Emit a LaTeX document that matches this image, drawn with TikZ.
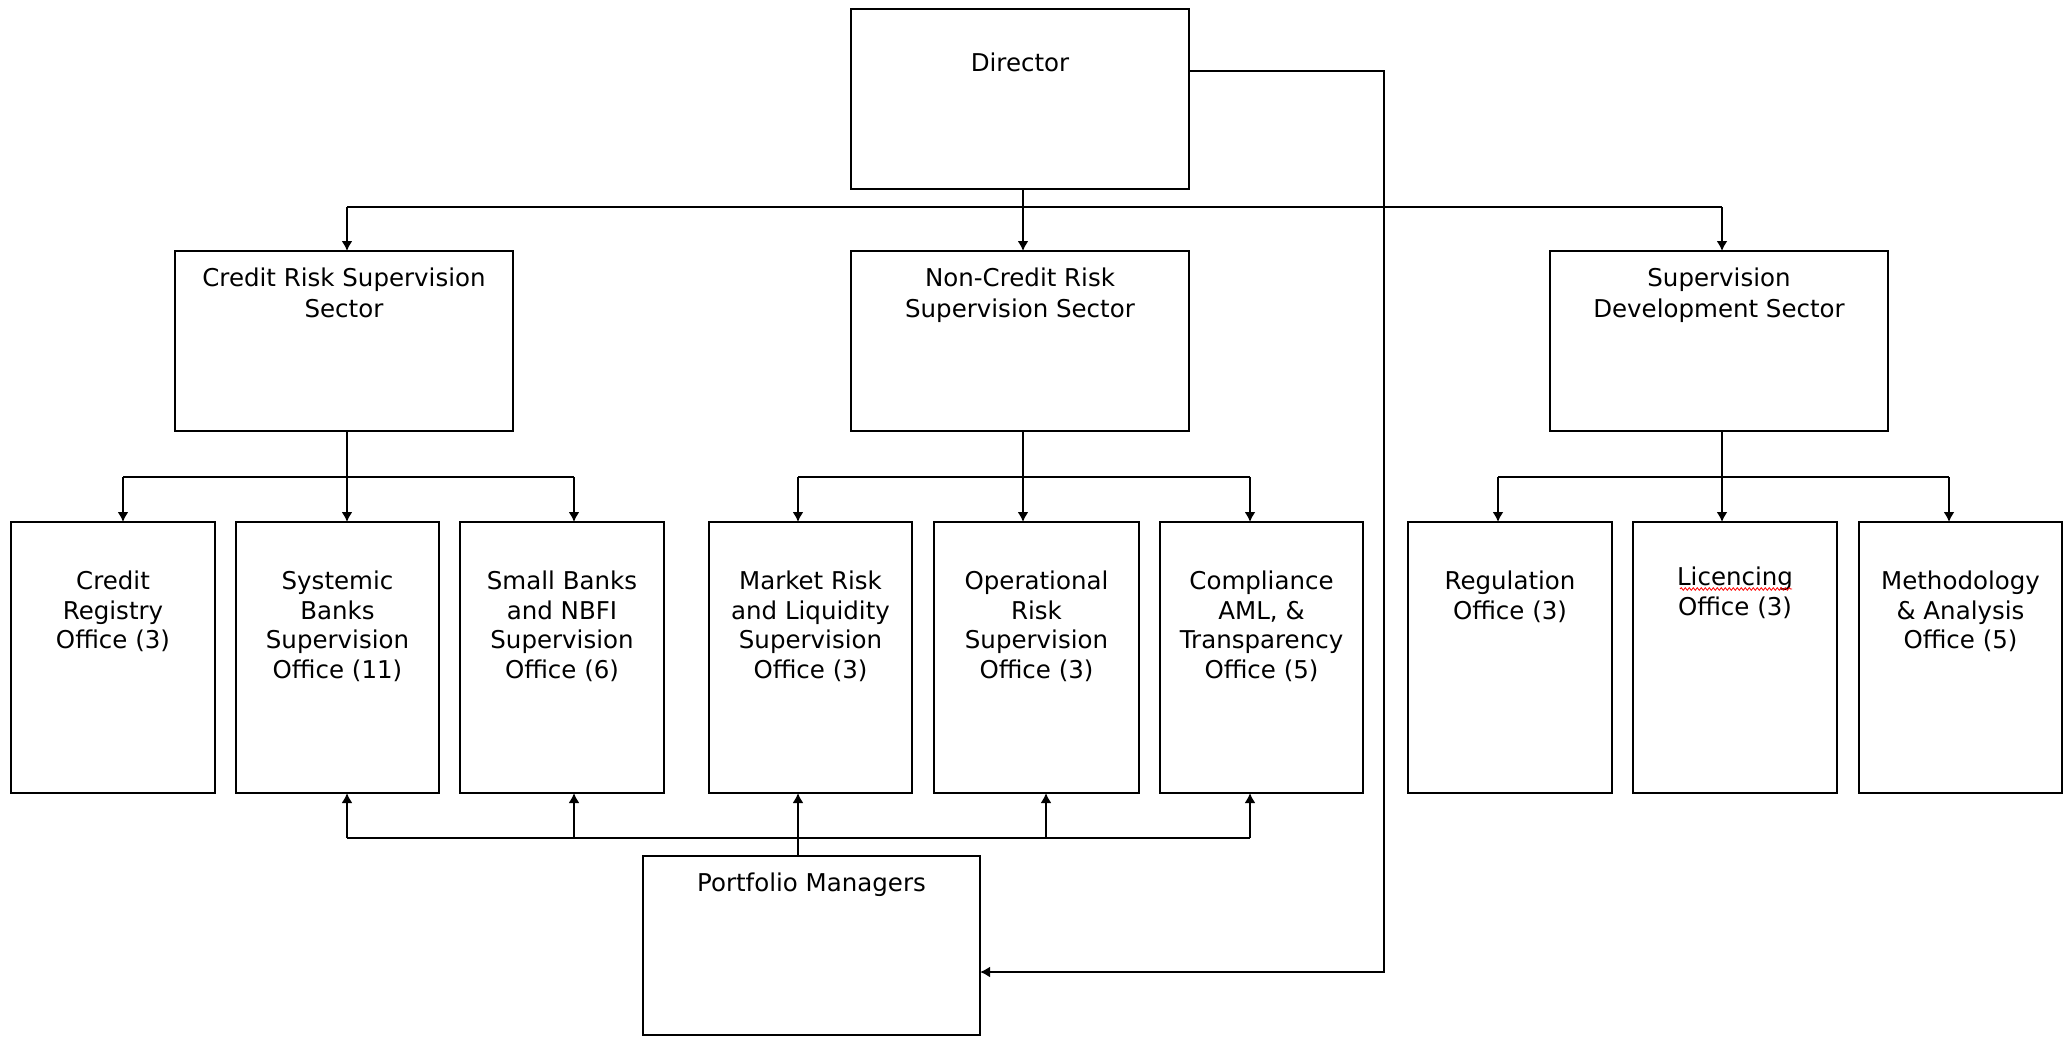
\documentclass[tikz,border=0pt]{standalone}
\usepackage{fontspec}
\setmainfont{DejaVu Sans}
\usetikzlibrary{arrows.meta,decorations.pathmorphing}
\tikzset{
  box/.style={draw, line width=1.9pt, inner sep=0pt, outer sep=0pt},
  txt/.style={font=\fontsize{24.5}{29.8}\selectfont, align=center, inner sep=0pt, anchor=north},
  ln/.style={line width=1.9pt},
  arr/.style={line width=1.9pt, -{Latex[length=10pt,width=11pt]}},
}
\newcommand\obox[7]{%
  \node[box, minimum width={#4-#2}, minimum height={#5-#3}] (#1) at ({(#2+#4)/2},{(#3+#5)/2}) {};
  \node[txt] (#1t) at ({(#2+#4)/2},{#3+#6}) {\rule{0pt}{20pt}#7};
}
\newcommand\secbox[7]{%
  \node[box, minimum width={#4-#2}, minimum height={#5-#3}] (#1) at ({(#2+#4)/2},{(#3+#5)/2}) {};
  \node[txt, font=\fontsize{24.5}{31.7}\selectfont] (#1t) at ({(#2+#4)/2},{#3+#6}) {\rule{0pt}{20pt}#7};
}
\begin{document}
\begin{tikzpicture}[x=1pt,y=-1pt]
\useasboundingbox (0,0) rectangle (2069,1037);
% top level
\obox{dir}{851}{9}{1189}{189}{42}{Director}
% sectors
\secbox{crs}{175}{251}{513}{431}{15}{Credit Risk Supervision\\Sector}
\secbox{ncr}{851}{251}{1189}{431}{15}{Non-Credit Risk\\Supervision Sector}
\secbox{sds}{1550}{251}{1888}{431}{15}{Supervision\\Development Sector}
% offices
\obox{o1}{11}{522}{215}{793}{47}{Credit\\Registry\\Office (3)}
\obox{o2}{236}{522}{439}{793}{47}{Systemic\\Banks\\Supervision\\Office (11)}
\obox{o3}{460}{522}{664}{793}{47}{Small Banks\\and NBFI\\Supervision\\Office (6)}
\obox{o4}{709}{522}{912}{793}{47}{Market Risk\\and Liquidity\\Supervision\\Office (3)}
\obox{o5}{934}{522}{1139}{793}{47}{Operational\\Risk\\Supervision\\Office (3)}
\obox{o6}{1160}{522}{1363}{793}{47}{Compliance\\AML, \&\\Transparency\\Office (5)}
\obox{o7}{1408}{522}{1612}{793}{47}{Regulation\\Office (3)}
\obox{o8}{1633}{522}{1837}{793}{43}{Licencing\\Office (3)}
\obox{o9}{1859}{522}{2062}{793}{47}{Methodology\\\& Analysis\\Office (5)}
% portfolio
\obox{pm}{643}{856}{980}{1035}{15}{Portfolio Managers}
% spell-check squiggle
\draw[red, line width=0.8pt, decorate, decoration={snake, amplitude=1.3pt, segment length=4pt}] (1680,589) -- (1792,589);
% top bus
\coordinate (t0) at (1023,207);
\coordinate (tL) at (347,207);
\coordinate (tR) at (1722,207);
\draw[ln] (t0 |- dir.south) -- (t0);
\draw[arr] (t0) -- (t0 |- ncr.north);
\draw[ln] (tL) -- (tR);
\draw[arr] (tL) -- (tL |- crs.north);
\draw[arr] (tR) -- (tR |- sds.north);
% credit sector bus
\coordinate (a0) at (347,477);
\coordinate (aL) at (123,477);
\coordinate (aR) at (574,477);
\draw[ln] (a0 |- crs.south) -- (a0);
\draw[ln] (aL) -- (aR);
\draw[arr] (aL) -- (aL |- o1.north);
\draw[arr] (a0) -- (a0 |- o2.north);
\draw[arr] (aR) -- (aR |- o3.north);
% non-credit bus
\coordinate (b0) at (1023,477);
\coordinate (bL) at (798,477);
\coordinate (bR) at (1250,477);
\draw[ln] (b0 |- ncr.south) -- (b0);
\draw[ln] (bL) -- (bR);
\draw[arr] (bL) -- (bL |- o4.north);
\draw[arr] (b0) -- (b0 |- o5.north);
\draw[arr] (bR) -- (bR |- o6.north);
% development bus
\coordinate (c0) at (1722,477);
\coordinate (cL) at (1498,477);
\coordinate (cR) at (1949,477);
\draw[ln] (c0 |- sds.south) -- (c0);
\draw[ln] (cL) -- (cR);
\draw[arr] (cL) -- (cL |- o7.north);
\draw[arr] (c0) -- (c0 |- o8.north);
\draw[arr] (cR) -- (cR |- o9.north);
% portfolio bus
\coordinate (pL) at (347,838);
\coordinate (p3) at (574,838);
\coordinate (p5) at (1046,838);
\coordinate (pR) at (1250,838);
\coordinate (px) at (798,838);
\draw[ln] (pL) -- (pR);
\draw[arr] (pL) -- (pL |- o2.south);
\draw[arr] (p3) -- (p3 |- o3.south);
\draw[arr] (p5) -- (p5 |- o5.south);
\draw[arr] (pR) -- (pR |- o6.south);
\draw[arr] (px |- pm.north) -- (px |- o4.south);
% director to portfolio managers
\coordinate (rc) at (1384,71);
\coordinate (rd) at (1384,972);
\draw[arr] (rc -| dir.east) -- (rc) -- (rd) -- (rd -| pm.east);
\end{tikzpicture}
\end{document}
